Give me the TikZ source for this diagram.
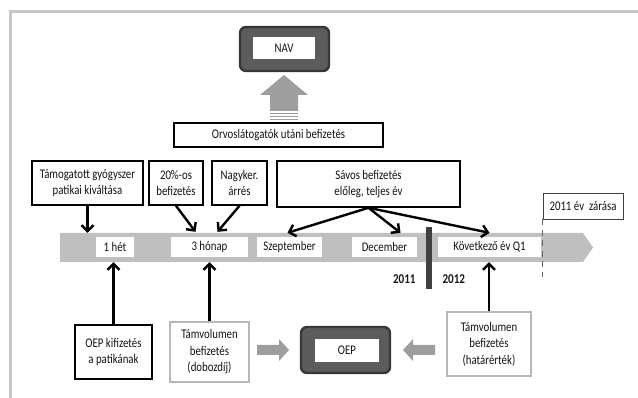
\documentclass[tikz,border=0pt]{standalone}
\usepackage{fontspec}
\setmainfont{Carlito}[FakeStretch=0.82]
\usetikzlibrary{shapes,arrows,arrows.meta}
\tikzstyle{box} = [draw=black, line width=1.6pt, fill=white, align=center, inner sep=0pt, text=black!92]
\tikzstyle{grbox} = [draw=black!28, line width=1.6pt, fill=white, align=center, inner sep=0pt, text=black!92]
\tikzstyle{lbl} = [fill=white, minimum height=20pt, inner sep=0pt, text=black!92]
\tikzstyle{darkbox} = [draw=black!78, line width=2.4pt, fill=black!64, rounded corners=6pt]
\tikzstyle{inner} = [fill=white, inner sep=0pt, text=black!92]
\tikzstyle{blockarrow} = [fill=black!38]
\tikzstyle{conn} = [draw, ->, line width=2.4pt]
\def\lblgap{4pt}

\begin{document}
\begin{tikzpicture}[x=1pt, y=-1pt, >={Straight Barb[length=6pt,width=12pt]},
    font=\fontsize{13.2}{16.5}\selectfont]
    \useasboundingbox (0,0) rectangle (638,398);
    \draw[black!22, line width=3pt] (10.5,398) -- (10.5,12) -- (638,12);

    % top: NAV
    \node (navframe) [darkbox, minimum width=89pt, minimum height=44pt] at (284.5,49) {};
    \node (nav) [inner, minimum width=62pt, minimum height=22pt] at (284,48) {NAV};
    \node (orvos) [box, minimum width=209pt, minimum height=24pt] at (278.5,135) {Orvoslátogatók utáni befizetés};
    \fill[blockarrow] (270,111) -- (270,95) -- (260,95) -- (284,75) -- (308,95) -- (298,95) -- (298,111) -- cycle;
    \foreach \y in {113.5,116.5,119.5}
        \fill[blockarrow] (270,\y-0.8) rectangle (298,\y+0.8);

    % boxes above the timeline
    \node (tamog) [box, minimum width=111pt, minimum height=44pt] at (87.5,183) {Támogatott gyógyszer\\patikai kiváltása};
    \node (husz) [box, minimum width=54pt, minimum height=44pt] at (176,183) {20\%-os\\befizetés};
    \node (nagyker) [box, minimum width=55pt, minimum height=44pt] at (239.5,183) {Nagyker.\\árrés};
    \node (savos) [box, minimum width=183pt, minimum height=46pt] at (368.5,184) {Sávos befizetés\\előleg, teljes év};
    \node (zaras) [box, draw=black!75, line width=0.9pt, minimum width=80pt, minimum height=26pt] at (583,206) {2011 év\ \ zárása};

    % timeline
    \node (bar) [signal, signal to=east, signal pointer angle=110, fill=black!25, inner sep=0pt,
        minimum width=533pt, minimum height=29pt] at (321.5,247.5) {};
    \node (het) [lbl, minimum width=38pt] at (115,247) {1 hét};
    \node (honap) [lbl, minimum width=77pt] at (209.5,247) {3 hónap};
    \node (szept) [lbl, minimum width=65pt] at (289.5,247) {Szeptember};
    \node (dec) [lbl, minimum width=65pt] at (384.5,247) {December};
    \node (kov) [lbl, minimum width=103pt] at (489.5,247) {Következő év Q1};
    \node (evhatar) [fill=black!75, inner sep=0pt, minimum width=6pt, minimum height=62pt] at (429,258) {};
    \node (ev2011) [anchor=east, font=\fontsize{13.5}{15}\bfseries, text=black!90] at (419,279) {2011};
    \node (ev2012) [anchor=west, font=\fontsize{13.5}{15}\bfseries, text=black!90] at (439,279) {2012};
    \draw[black!60, line width=1.3pt, dash pattern=on 6pt off 4.5pt] (zaras.south west) -- (zaras.south west |- 0,277);

    % boxes below the timeline
    \node (oepkif) [box, minimum width=77pt, minimum height=54pt] at (113.5,352) {OEP kifizetés\\a patikának};
    \node (tamdoboz) [grbox, minimum width=79pt, minimum height=60pt] at (209.5,352) {Támvolumen\\befizetés\\(dobozdíj)};
    \node (tamhatar) [grbox, minimum width=84pt, minimum height=64pt] at (489,344) {Támvolumen\\befizetés\\(határérték)};
    \node (oepframe) [darkbox, minimum width=89pt, minimum height=46pt] at (345.5,350) {};
    \node (oep) [inner, minimum width=64pt, minimum height=23pt] at (347,350.5) {OEP};
    \fill[blockarrow] (257,345) -- (279,345) -- (279,339) -- (289,350) -- (279,361) -- (279,355) -- (257,355) -- cycle;
    \fill[blockarrow] (435,345) -- (413,345) -- (413,339) -- (403,350) -- (413,361) -- (413,355) -- (435,355) -- cycle;

    % connectors
    \path [conn] (tamog.south) -- (tamog.south |- bar.north);
    \path [conn] (husz.south) -- ([xshift=-14pt,yshift=5pt]honap.north);
    \path [conn] (nagyker.south) -- ([xshift=8pt,yshift=5pt]honap.north);
    \path [conn] (savos.south) -- ([xshift=-2pt,yshift=\lblgap]szept.north);
    \path [conn] (savos.south) -- ([xshift=16pt,yshift=\lblgap]dec.north);
    \path [conn] (savos.south) -- ([yshift=\lblgap]kov.north);

    \foreach \x in {oepkif,tamdoboz,tamhatar}
    {
        \path [conn] (\x.north) -- (\x.north |- bar.south);
    }

\end{tikzpicture}
\end{document}
